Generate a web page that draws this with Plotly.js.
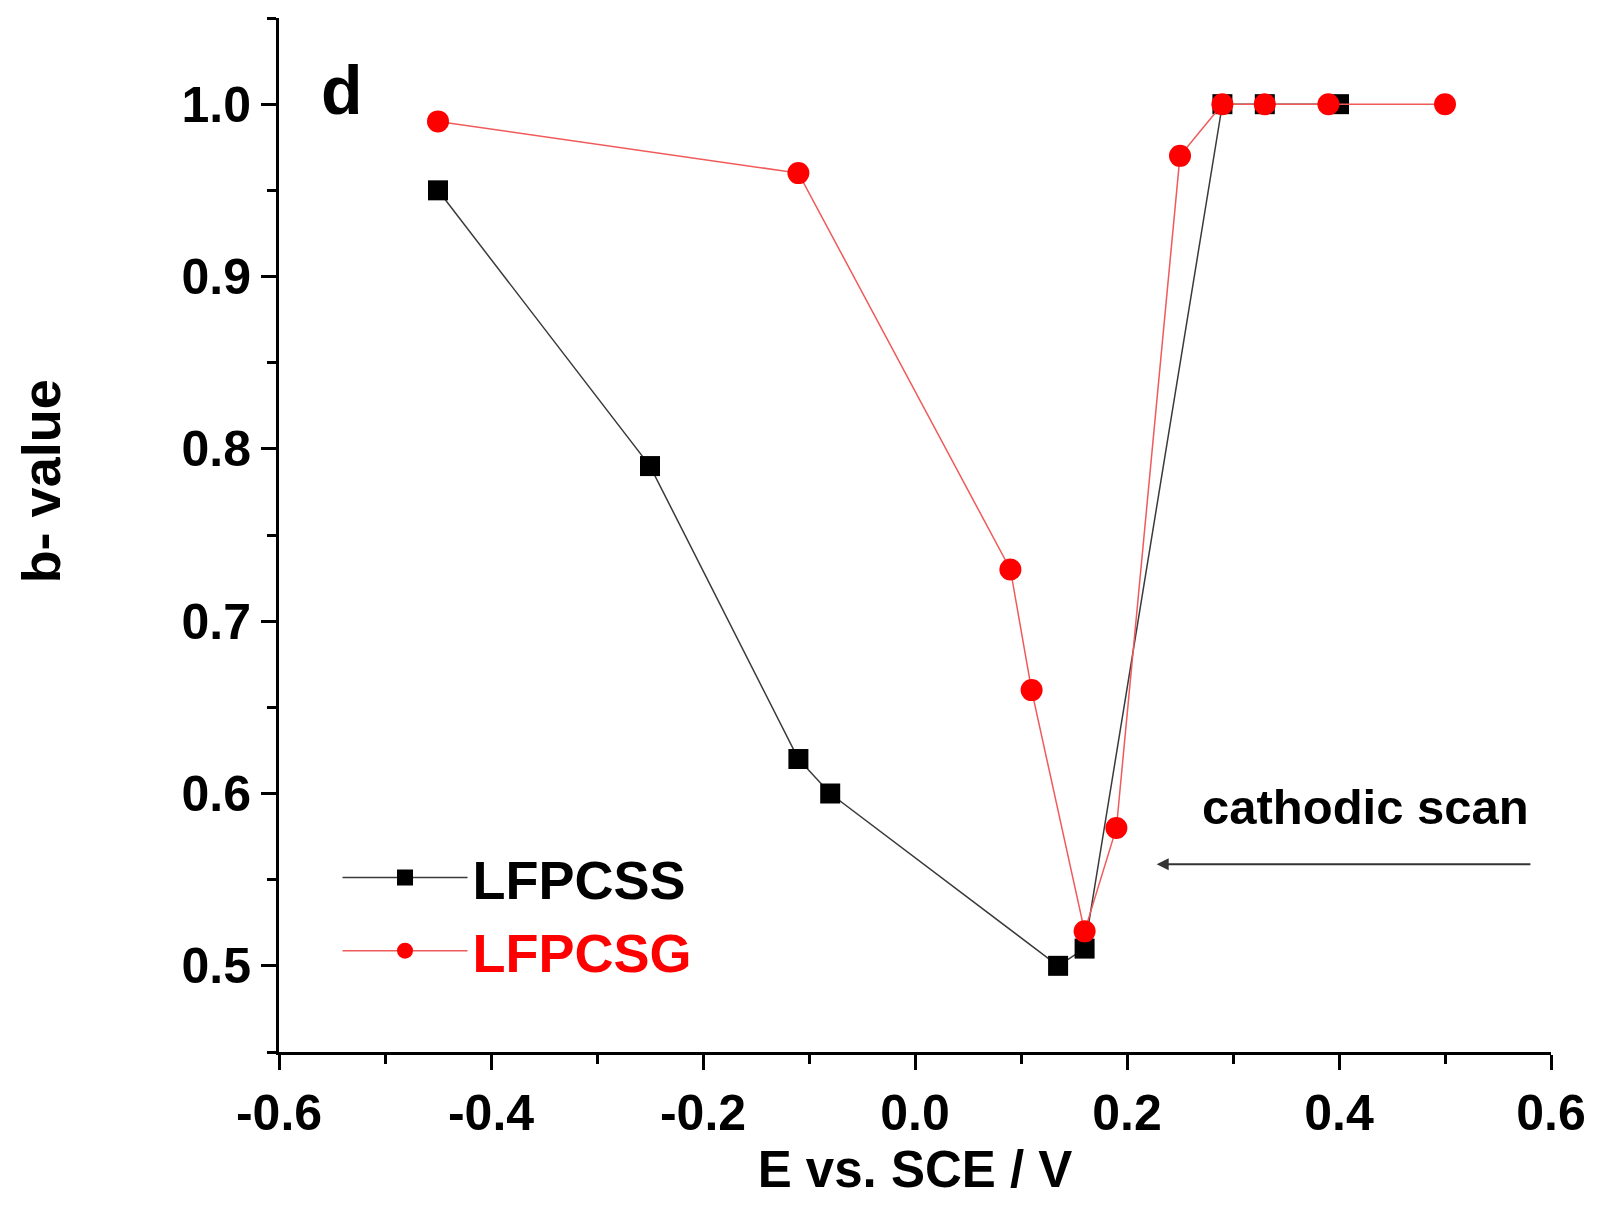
<!DOCTYPE html>
<html>
<head>
<meta charset="utf-8">
<script src="https://cdn.plot.ly/plotly-3.0.1.min.js"></script>
<style>html,body{margin:0;padding:0;background:#fff;}#chart{width:1598px;height:1209px;}</style>
</head>
<body>
<div id="chart"></div>
<script>
// LFPCSS (black squares)
const lfpcssE = [-0.45, -0.25, -0.11, -0.08, 0.135, 0.16, 0.29, 0.33, 0.40];
const lfpcssB = [0.95, 0.79, 0.62, 0.60, 0.50, 0.51, 1.00, 1.00, 1.00];
// LFPCSG (red circles)
const lfpcsgE = [-0.45, -0.11, 0.09, 0.11, 0.16, 0.19, 0.25, 0.29, 0.33, 0.39, 0.50];
const lfpcsgB = [0.99, 0.96, 0.73, 0.66, 0.52, 0.58, 0.97, 1.00, 1.00, 1.00, 1.00];
const xTicks = [-0.6, -0.4, -0.2, 0.0, 0.2, 0.4, 0.6];
const yTicks = [0.5, 0.6, 0.7, 0.8, 0.9, 1.0];

const FONT = 'Liberation Sans, Arial, Helvetica, sans-serif';

const traces = [
  {
    x: lfpcssE, y: lfpcssB, name: 'LFPCSS', type: 'scatter', mode: 'lines+markers',
    line: {color: '#3a3a3a', width: 1.5},
    marker: {symbol: 'square', size: 20, color: '#000000'}
  },
  {
    x: lfpcsgE, y: lfpcsgB, name: '<span style="color:#ff0000">LFPCSG</span>', type: 'scatter', mode: 'lines+markers',
    line: {color: '#f05a5a', width: 1.5},
    marker: {symbol: 'circle', size: 22, color: '#ff0000'}
  }
];

const layout = {
  width: 1598, height: 1209,
  margin: {l: 279, r: 47, t: 18, b: 157},
  paper_bgcolor: '#ffffff', plot_bgcolor: '#ffffff',
  font: {family: FONT, color: '#000'},
  showlegend: true,
  legend: {
    x: 0.046, y: 0.209, xanchor: 'left', yanchor: 'top',
    bgcolor: 'rgba(0,0,0,0)',
    font: {family: FONT, size: 54, color: '#000', weight: 'bold'},
    tracegroupgap: 0, itemwidth: 125
  },
  xaxis: {
    range: [-0.6, 0.6], tickvals: xTicks, ticktext: xTicks.map(v => v.toFixed(1)),
    showgrid: false, zeroline: false, showline: true, linecolor: '#000', linewidth: 3,
    ticks: 'outside', ticklen: 15, tickwidth: 3, tickcolor: '#000',
    tickfont: {family: FONT, size: 50, color: '#000', weight: 'bold'},
    minor: {ticks: 'outside', ticklen: 9, tickwidth: 3, tickcolor: '#000', dtick: 0.1, showgrid: false},
    title: {text: 'E vs. SCE / V', font: {family: FONT, size: 51, color: '#000', weight: 'bold'}, standoff: 12}
  },
  yaxis: {
    range: [0.45, 1.05], tickvals: yTicks, ticktext: yTicks.map(v => v.toFixed(1)),
    showgrid: false, zeroline: false, showline: true, linecolor: '#000', linewidth: 3,
    ticks: 'outside', ticklen: 15, tickwidth: 3, tickcolor: '#000',
    tickfont: {family: FONT, size: 50, color: '#000', weight: 'bold'},
    minor: {ticks: 'outside', ticklen: 9, tickwidth: 3, tickcolor: '#000', dtick: 0.05, showgrid: false}
  },
  annotations: [
    {x: -0.187, y: 0.552, xref: 'paper', yref: 'paper', text: 'b- value', textangle: -90, showarrow: false,
     xanchor: 'center', yanchor: 'middle',
     font: {family: FONT, size: 54, color: '#000', weight: 'bold'}},
    {x: -0.541, y: 1.008, xref: 'x', yref: 'y', text: 'd', showarrow: false,
     font: {family: FONT, size: 68, color: '#000', weight: 'bold'}},
    {x: 0.425, y: 0.592, xref: 'x', yref: 'y', text: 'cathodic scan', showarrow: false,
     font: {family: FONT, size: 49, color: '#000', weight: 'bold'}},
    {x: 0.228, y: 0.559, ax: 0.582, ay: 0.559, xref: 'x', yref: 'y', axref: 'x', ayref: 'y',
     text: '', showarrow: true, arrowhead: 2, arrowsize: 1.2, arrowwidth: 2, arrowcolor: '#333'}
  ]
};

Plotly.newPlot('chart', traces, layout, {displayModeBar: false, staticPlot: true});
</script>
</body>
</html>
